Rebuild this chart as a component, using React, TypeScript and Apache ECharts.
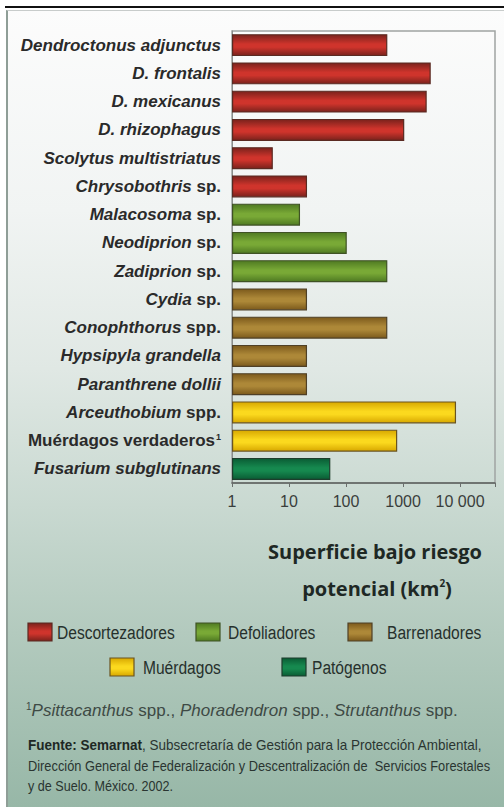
import React, { useEffect, useRef } from "react";
import * as echarts from "echarts";

const categories = [
  "Dendroctonus adjunctus",
  "D. frontalis",
  "D. mexicanus",
  "D. rhizophagus",
  "Scolytus multistriatus",
  "Chrysobothris sp.",
  "Malacosoma sp.",
  "Neodiprion sp.",
  "Zadiprion sp.",
  "Cydia sp.",
  "Conophthorus spp.",
  "Hypsipyla grandella",
  "Paranthrene dollii",
  "Arceuthobium spp.",
  "Muérdagos verdaderos",
  "Fusarium subglutinans",
];
const values = [530, 3060, 2600, 1050, 5.2, 20.7, 15.6, 103, 530, 20.7, 530, 20.7, 20.7, 8500, 790, 53];
const groupOf = [0, 0, 0, 0, 0, 0, 1, 1, 1, 2, 2, 2, 2, 3, 3, 4];
const groups = ["Descortezadores", "Defoliadores", "Barrenadores", "Muérdagos", "Patógenos"];
const tickLabels: Record<number, string> = { 1: "1", 10: "10", 100: "100", 1000: "1000", 10000: "10 000" };
const footnoteParts = [
  ["i", "Psittacanthus"],
  ["n", " spp., "],
  ["i", "Phoradendron"],
  ["n", " spp., "],
  ["i", "Strutanthus"],
  ["n", " spp."],
];
const sourceLines = [
  "{b|Fuente: Semarnat}{r|, Subsecretaría de Gestión para la Protección Ambiental,}",
  "{r|Dirección General de Federalización y Descentralización de  Servicios Forestales}",
  "{r|y de Suelo. México. 2002.}",
];
const sourceScale = [0.9, 0.855, 0.84];

const groupColors = [
  { dark: "#7a221c", light: "#cf342c", border: "#5a2a22" },
  { dark: "#4f7a22", light: "#79a936", border: "#3f5224" },
  { dark: "#7c5a1c", light: "#ad8838", border: "#4f4026" },
  { dark: "#d8a800", light: "#fbd91e", border: "#6a5420" },
  { dark: "#0a5c34", light: "#16894f", border: "#1d3d2c" },
];

const SANS = '"Liberation Sans", Arial, sans-serif';

function grad(c: { dark: string; light: string }) {
  return new echarts.graphic.LinearGradient(0, 0, 0, 1, [
    { offset: 0, color: c.dark },
    { offset: 0.45, color: c.light },
    { offset: 0.6, color: c.light },
    { offset: 1, color: c.dark },
  ]);
}

// legend layout: square position and text start
const legendPos = [
  { x: 28, y: 623, tx: 57 },
  { x: 196, y: 623, tx: 228 },
  { x: 348, y: 623, tx: 387 },
  { x: 110, y: 658, tx: 143 },
  { x: 282, y: 658, tx: 312 },
];

export default function App() {
  const ref = useRef<HTMLDivElement>(null);
  useEffect(() => {
    if (!ref.current) return;
    const chart = echarts.init(ref.current, undefined, { renderer: "svg" });
    const series = groups.map((g, gi) => ({
      name: g,
      type: "bar",
      barWidth: 22,
      barGap: "-100%",
      data: values.map((v, k) => (groupOf[k] === gi ? v : "-")),
      itemStyle: {
        color: grad(groupColors[gi]),
        borderColor: groupColors[gi].border,
        borderWidth: 1.2,
      },
    }));
    const legendGraphics: any[] = [];
    groups.forEach((g, gi) => {
      const p = legendPos[gi];
      legendGraphics.push({
        type: "rect",
        shape: { x: p.x, y: p.y, width: 24, height: 18 },
        style: { fill: grad(groupColors[gi]), stroke: groupColors[gi].border, lineWidth: 1.2 },
      });
      legendGraphics.push({
        type: "text",
        x: p.tx,
        y: p.y + 9.5,
        scaleX: 0.82,
        style: {
          text: g,
          fontFamily: SANS,
          fontSize: 19,
          fill: "#26302c",
          verticalAlign: "middle",
        },
      });
    });
    const footText = "{s|1}" + footnoteParts.map(([k, t]) => `{${k}|${t}}`).join("");
    chart.setOption({
      animation: false,
      backgroundColor: "transparent",
      grid: {
        left: 232,
        right: 9,
        top: 31,
        bottom: 328,
        show: true,
        borderColor: "#a0a4a2",
        borderWidth: 1.5,
        backgroundColor: "transparent",
      },
      xAxis: {
        type: "log",
        logBase: 10,
        min: 1,
        max: 41000,
        axisLine: { show: true, lineStyle: { color: "#5c605e", width: 1.5 } },
        axisTick: { show: true, length: 4, lineStyle: { color: "#6a6e6c" } },
        splitLine: { show: false },
        axisLabel: {
          margin: 10,
          fontFamily: SANS,
          fontSize: 16,
          color: "#3a3e3c",
          formatter: (v: number) => {
            const k = Math.round(v);
            return tickLabels[k] && Math.abs(v - k) < 1e-6 ? tickLabels[k] : "";
          },
        },
      },
      yAxis: {
        type: "category",
        inverse: true,
        data: categories,
        axisLine: { show: true, lineStyle: { color: "#8a8e8c", width: 1 } },
        axisTick: { show: false },
        axisLabel: {
          margin: 11,
          fontFamily: SANS,
          fontSize: 17,
          fontWeight: "bold",
          color: "#2a2a2a",
          formatter: (v: string) => {
            if (v === "Muérdagos verdaderos") return "{n|Muérdagos verdaderos}{s|1}";
            const m = v.match(/^(.*) (spp?\.)$/);
            if (m) return `{i|${m[1]}} {n|${m[2]}}`;
            return `{i|${v}}`;
          },
          rich: {
            i: { fontFamily: SANS, fontSize: 17, fontWeight: "bold", fontStyle: "italic", color: "#2a2a2a" },
            n: { fontFamily: SANS, fontSize: 17, fontWeight: "bold", fontStyle: "normal", color: "#2a2a2a" },
            s: { fontFamily: SANS, fontSize: 9, fontWeight: "bold", color: "#2a2a2a", verticalAlign: "top", padding: [0, 0, 0, 1] },
          },
        },
      },
      series,
      graphic: [
        ...legendGraphics,
        {
          type: "text",
          x: 375,
          y: 551,
          style: {
            text: "Superficie bajo riesgo",
            fontFamily: '"Open Sans", sans-serif',
            fontWeight: "bold",
            fontSize: 20,
            fill: "#1e2824",
            align: "center",
            verticalAlign: "middle",
          },
        },
        {
          type: "text",
          x: 377,
          y: 588,
          style: {
            text: "{t|potencial (km}{s|2}{t|)}",
            align: "center",
            verticalAlign: "middle",
            rich: {
              t: { fontFamily: '"Open Sans", sans-serif', fontWeight: "bold", fontSize: 20, fill: "#1e2824" },
              s: { fontFamily: '"Open Sans", sans-serif', fontWeight: "bold", fontSize: 10, fill: "#1e2824", verticalAlign: "top" },
            },
          },
        },
        {
          type: "text",
          x: 26,
          y: 710,
          style: {
            text: footText,
            verticalAlign: "middle",
            rich: {
              s: { fontFamily: SANS, fontSize: 10, fill: "#3e4a45", verticalAlign: "top" },
              i: { fontFamily: SANS, fontSize: 17, fontStyle: "italic", fill: "#3e4a45" },
              n: { fontFamily: SANS, fontSize: 17, fill: "#3e4a45" },
            },
          },
        },
        ...sourceLines.map((t, li) => ({
          type: "text",
          x: 28,
          y: 745 + li * 20.5,
          scaleX: sourceScale[li],
          style: {
            text: t,
            verticalAlign: "middle",
            rich: {
              b: { fontFamily: SANS, fontSize: 15, fontWeight: "bold", fill: "#1e2824" },
              r: { fontFamily: SANS, fontSize: 15, fill: "#2a3531" },
            },
          },
        })),
      ],
    });
    return () => chart.dispose();
  }, []);

  return (
    <div style={{ position: "absolute", left: 0, top: 0, width: 504, height: 811, background: "#ffffff", overflow: "hidden" }}>
      <div style={{ position: "absolute", left: 5, top: 6, width: 499, height: 2, background: "#111" }} />
      <div
        style={{
          position: "absolute",
          left: 6,
          top: 10,
          width: 498,
          height: 797,
          boxSizing: "border-box",
          borderLeft: "2px solid #8f9e97",
          borderTop: "1px solid #c8cccb",
          background:
            "linear-gradient(to bottom, #fcfcfc 0%, #f1f4f3 25%, #e0e8e4 45%, #c9d9d1 62%, #b3cabe 78%, #97b7a7 100%)",
        }}
      />
      <div ref={ref} style={{ position: "absolute", left: 0, top: 0, width: 504, height: 811 }} />
    </div>
  );
}
